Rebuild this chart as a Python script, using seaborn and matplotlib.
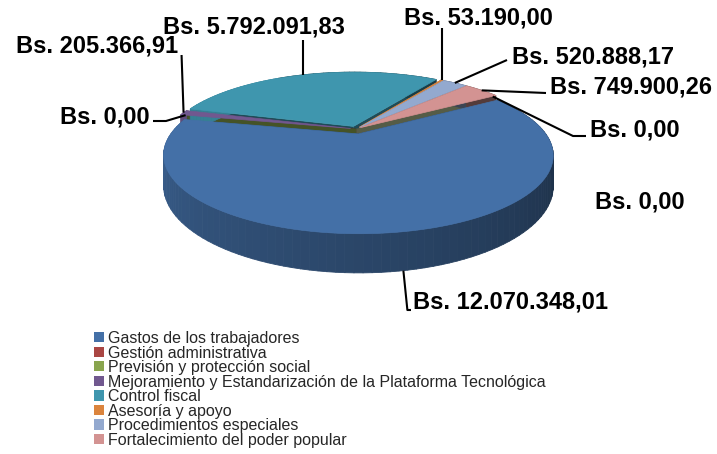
import numpy as np
import matplotlib
matplotlib.use("Agg")
import matplotlib.pyplot as plt
import seaborn as sns
from matplotlib.patches import Patch
from matplotlib.collections import PolyCollection

# datos del gráfico
categorias = [
    "Gastos de los trabajadores",
    "Gestión administrativa",
    "Previsión y protección social",
    "Mejoramiento y Estandarización de la Plataforma Tecnológica",
    "Control fiscal",
    "Asesoría y apoyo",
    "Procedimientos especiales",
    "Fortalecimiento del poder popular",
    "Otros",
]
montos = [12070348.01, 0.00, 0.00, 205366.91, 5792091.83, 53190.00, 520888.17, 749900.26, 0.00]
colores = ["#4470A7", "#AA4643", "#89A54E", "#71588F", "#3F96AE",
           "#DB843D", "#93A9CF", "#D39392", "#A9B78E"]
separacion = [0.07, 0.0, 0.0, 0.03, 0.04, 0.03, 0.03, 0.03, 0.0]

# posicion de las etiquetas (pixeles) y alineacion
pos_etiquetas = [(413, 302, "left"), (150, 117, "right"), (595, 202, "left"),
                 (178, 46, "right"), (254, 27, "center"), (478, 18, "center"),
                 (512, 57, "left"), (550, 87, "left"), (590, 130, "left")]

# proyeccion en perspectiva del disco
CX, CY = 356, 129
KX, KY, KZ, P = 184, 70, 28, 0.267
INICIO = 32


def proyectar(x, y, z=0.0):
    s = 1.0 / (1.0 + P * y)
    return CX + KX * x * s, CY - KY * y * s + KZ * z * s


def bolivares(v):
    s = f"{v:,.2f}".replace(",", "X").replace(".", ",").replace("X", ".")
    return "Bs. " + s


def tono(color, f):
    r, g, b = matplotlib.colors.to_rgb(color)
    return (r * f, g * f, b * f)


sns.set_theme(style="white")
plt.rcParams["font.family"] = ["Liberation Sans", "DejaVu Sans"]

fig = plt.figure(figsize=(7.17, 4.54), dpi=100)
ax = fig.add_axes([0, 0, 1, 1])
ax.set_xlim(0, 717)
ax.set_ylim(454, 0)
ax.axis("off")

total = sum(montos)
frac = np.array(montos) / total
a_ini = INICIO - 360 * np.concatenate([[0], np.cumsum(frac)[:-1]])
a_fin = a_ini - 360 * frac
medio = (a_ini + a_fin) / 2

orden = np.argsort(-np.sin(np.radians(medio)), kind="stable")

caras_rad, col_rad = [], []
caras_ext, col_ext = [], []
tapas = []

for i in orden:
    m = np.radians(medio[i])
    ox, oy = separacion[i] * np.cos(m), separacion[i] * np.sin(m)
    # caras radiales
    for a in {a_ini[i], a_fin[i]}:
        r = np.radians(a)
        ex, ey = ox + np.cos(r), oy + np.sin(r)
        quad = [proyectar(ox, oy), proyectar(ex, ey), proyectar(ex, ey, 1), proyectar(ox, oy, 1)]
        caras_rad.append(quad)
        col_rad.append(tono(colores[i], 0.5))
    if frac[i] == 0:
        continue
    # cara exterior con sombreado
    th = np.radians(np.linspace(a_ini[i], a_fin[i], max(3, int(abs(a_ini[i] - a_fin[i]) / 2))))
    for t0, t1 in zip(th[:-1], th[1:]):
        x0, y0 = ox + np.cos(t0), oy + np.sin(t0)
        x1, y1 = ox + np.cos(t1), oy + np.sin(t1)
        caras_ext.append([proyectar(x0, y0), proyectar(x1, y1),
                          proyectar(x1, y1, 1), proyectar(x0, y0, 1)])
        g = (np.degrees((t0 + t1) / 2) - 180) % 360
        g = 0 if g > 300 else g
        col_ext.append(tono(colores[i], np.interp(g, [0, 180], [0.85, 0.40])))
    # tapa superior
    pts = [proyectar(ox, oy)] + [proyectar(ox + np.cos(t), oy + np.sin(t)) for t in th]
    tapas.append((pts, colores[i]))

ax.add_collection(PolyCollection(caras_rad, facecolors=col_rad, edgecolors=col_rad,
                                 linewidths=0.3, zorder=1))
ax.add_collection(PolyCollection(caras_ext, facecolors=col_ext, edgecolors=col_ext,
                                 linewidths=0.6, zorder=2))
for pts, c in tapas:
    xs, ys = zip(*pts)
    ax.fill(xs, ys, color=c, lw=0.5, ec=c, zorder=3)

# etiquetas con lineas guia
for i, (tx, ty, ha) in enumerate(pos_etiquetas):
    ax.text(tx, ty, bolivares(montos[i]), ha=ha, va="center", fontsize=17,
            fontweight="bold", color="black", zorder=5)
    m = np.radians(medio[i])
    ox, oy = separacion[i] * np.cos(m), separacion[i] * np.sin(m)
    bx, by = ox + np.cos(m), oy + np.sin(m)
    if i == 0:
        axx, axy = proyectar(bx, by, 1)
        linea = [(axx, axy), (axx + 4, 310), (411, 310)]
    elif i == 2:
        continue
    else:
        axx, axy = proyectar(bx, by)
        linea = {1: [(153, 121), (166, 121)], 3: [(axx - 2, 55)], 4: [(axx, 40)],
                 5: [(axx, 28)], 6: [(507, 60)], 7: [(546, 93)],
                 8: [(586, 136), (573, 136)]}[i] + [(axx, axy)]
    lx, ly = zip(*linea)
    ax.plot(lx, ly, color="black", lw=1.5, zorder=4, solid_capstyle="butt")

manijas = [Patch(facecolor=c, edgecolor="none") for c in colores[:8]]
fig.legend(manijas, categorias[:8], loc="upper left", bbox_to_anchor=(94 / 717, 1 - 331 / 454),
           frameon=False, fontsize=11.5, handlelength=0.6, handleheight=0.6,
           handletextpad=0.25, labelspacing=-0.03, borderpad=0, borderaxespad=0)

fig.savefig("out.png", dpi=100, facecolor="white")
